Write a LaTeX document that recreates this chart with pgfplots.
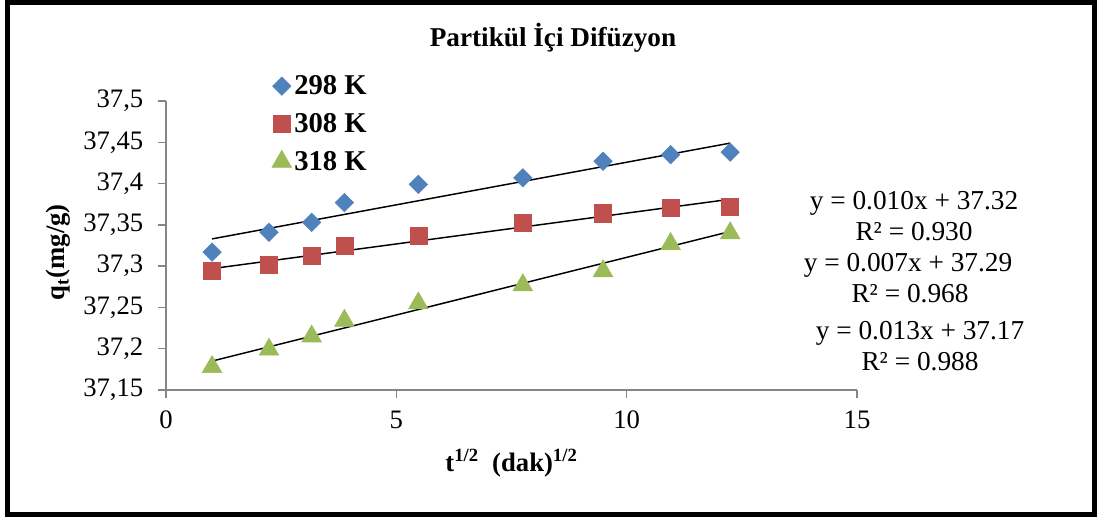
\documentclass[border=0pt]{standalone}
\usepackage{fontspec}
\setmainfont{Liberation Serif}
\usepackage{pgfplots}
\pgfplotsset{compat=1.18}
\definecolor{sBlue}{HTML}{4F81BD}
\definecolor{sRed}{HTML}{C0504D}
\definecolor{sGreen}{HTML}{9BBB59}
\definecolor{axgray}{HTML}{868686}
\newcommand{\PX}[2]{({#1*0.75pt},{(517-#2)*0.75pt})}
\begin{document}
\begin{tikzpicture}
\path[use as bounding box] (0,0) rectangle (822.75pt,387.75pt);
\draw[line width=3.75pt] \PX{7.5}{2.5} rectangle \PX{1094.5}{514.5};
\begin{axis}[
  at={(124.5pt,95.25pt)}, anchor=south west,
  scale only axis, width=518.25pt, height=216.75pt,
  xmin=0, xmax=15, ymin=37.15, ymax=37.5,
  xtick={0,5,10,15},
  ytick={37.15,37.2,37.25,37.3,37.35,37.4,37.45,37.5},
  axis x line*=bottom, axis y line*=left,
  axis line style={axgray, line width=1pt, -},
  tick style={axgray, line width=1pt},
  tick align=outside, major tick length=6pt,
  xtick pos=bottom, ytick pos=left,
  /pgf/number format/assume math mode=true,
  /pgf/number format/use comma,
  /pgf/number format/fixed,
  /pgf/number format/precision=2,
  yticklabel style={font=\fontsize{20}{24}\selectfont, xshift=-7.5pt},
  xticklabel style={font=\fontsize{20}{24}\selectfont, yshift=-6pt},
  xlabel={t\textsuperscript{1/2}\ \ (dak)\textsuperscript{1/2}},
  ylabel={q\textsubscript{t}(mg/g)},
  label style={font=\fontsize{20}{24}\selectfont\bfseries},
  xlabel style={at={(axis description cs:0.5,-0.253)}, anchor=center},
  ylabel style={at={(axis description cs:-0.156,0.477)}, anchor=center},
  legend style={at={(axis description cs:0.153,1.098)}, anchor=north west,
    draw=none, fill=none, font=\fontsize{21.5}{25}\selectfont\bfseries,
    row sep=8.5pt, inner sep=0pt},
  legend cell align=left,
  legend image code/.code={\draw[#1] plot coordinates {(0.2cm,0cm)};},
  clip=false,
]
\addplot[only marks, mark=square*, mark size=4.9pt, mark options={rotate=45, draw=sBlue, fill=sBlue}]
 coordinates {(1,37.317) (2.236,37.341) (3.162,37.353) (3.873,37.377) (5.477,37.399) (7.746,37.407) (9.487,37.427) (10.954,37.435) (12.247,37.438)};
\addlegendentry{298 K}
\addplot[only marks, mark=square*, mark size=6.4pt, mark options={draw=sRed, fill=sRed}]
 coordinates {(1,37.294) (2.236,37.302) (3.162,37.313) (3.873,37.325) (5.477,37.337) (7.746,37.353) (9.487,37.364) (10.954,37.371) (12.247,37.372)};
\addlegendentry{308 K}
\addplot[only marks, mark=triangle*, mark size=8.5pt, mark options={draw=sGreen, fill=sGreen}]
 coordinates {(1,37.178) (2.236,37.199) (3.162,37.215) (3.873,37.234) (5.477,37.255) (7.746,37.277) (9.487,37.294) (10.954,37.327) (12.247,37.340)};
\addlegendentry{318 K}
\addplot[black, line width=1.1pt, forget plot] coordinates {(1,37.333) (12.247,37.449)};
\addplot[black, line width=1.1pt, forget plot] coordinates {(1,37.297) (12.247,37.381)};
\addplot[black, line width=1.1pt, forget plot] coordinates {(1,37.185) (12.247,37.342)};
\end{axis}
\node[font=\fontsize{20.4}{24}\selectfont\bfseries, anchor=base] at \PX{553}{47} {Partikül İçi Difüzyon};
\begin{scope}[every node/.style={font=\fontsize{20.5}{24}\selectfont, anchor=base, inner sep=0pt}]
\node at \PX{914}{210} {y = 0.010x + 37.32};
\node at \PX{914}{241} {R² = 0.930};
\node at \PX{908}{272} {y = 0.007x + 37.29};
\node at \PX{910}{303} {R² = 0.968};
\node at \PX{920}{340} {y = 0.013x + 37.17};
\node at \PX{920}{371} {R² = 0.988};
\end{scope}
\end{tikzpicture}
\end{document}
